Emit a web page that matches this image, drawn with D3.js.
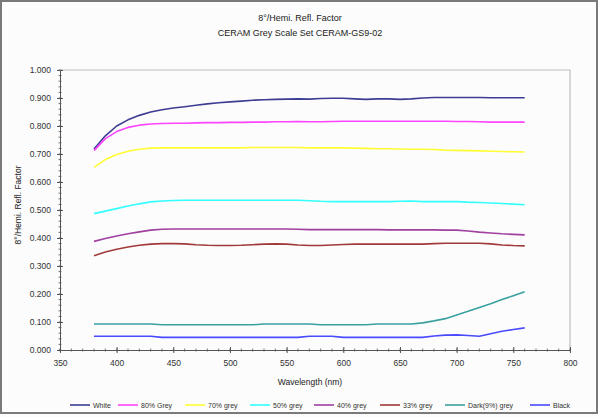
<!DOCTYPE html>
<html>
<head>
<meta charset="utf-8">
<script src="https://cdn.jsdelivr.net/npm/d3@7"></script>
<style>
  body { margin: 0; background: #fff; }
  svg { font-family: "Liberation Sans", Arial, sans-serif; }
</style>
</head>
<body>
<div id="chart"></div>
<script>
const [width, height] = [598, 417];
const margin = {top: 70, right: 28, bottom: 67, left: 60};

// data (wavelength in nm, factor 0..1)
const wavelengths = [380, 390, 400, 410, 420, 430, 440, 450, 460, 470, 480, 490, 500, 510, 520, 530, 540, 550, 560, 570,
                     580, 590, 600, 610, 620, 630, 640, 650, 660, 670, 680, 690, 700, 710, 720, 730, 740, 750, 760];
const seriesNames = ["White", "80% Grey", "70% grey", "50% grey", "40% grey", "33% grey", "Dark(9%) grey", "Black"];
const seriesColors = ["#3d3d94", "#ff44ff", "#ffff33", "#33ffff", "#a040a0", "#a03a3a", "#3aa0a0", "#4a4aff"];

const white = [0.718, 0.765, 0.800, 0.822, 0.838, 0.850, 0.858, 0.864, 0.869, 0.874, 0.879, 0.883, 0.886, 0.889, 0.892, 0.894, 0.895, 0.896, 0.897, 0.896,
               0.898, 0.899, 0.899, 0.897, 0.895, 0.897, 0.897, 0.895, 0.897, 0.900, 0.902, 0.902, 0.902, 0.902, 0.902, 0.901, 0.901, 0.901, 0.901];
const grey80 = [0.712, 0.755, 0.780, 0.795, 0.803, 0.807, 0.809, 0.810, 0.810, 0.811, 0.812, 0.812, 0.813, 0.813, 0.814, 0.814, 0.815, 0.815, 0.816, 0.815,
                0.815, 0.816, 0.817, 0.817, 0.817, 0.817, 0.817, 0.817, 0.817, 0.817, 0.817, 0.817, 0.816, 0.816, 0.815, 0.814, 0.814, 0.814, 0.814];
const grey70 = [0.652, 0.680, 0.698, 0.710, 0.717, 0.721, 0.722, 0.722, 0.722, 0.722, 0.722, 0.722, 0.722, 0.722, 0.723, 0.723, 0.723, 0.723, 0.723, 0.722,
                0.722, 0.722, 0.722, 0.721, 0.720, 0.719, 0.719, 0.718, 0.717, 0.717, 0.716, 0.714, 0.713, 0.712, 0.711, 0.710, 0.709, 0.708, 0.707];
const grey50 = [0.487, 0.496, 0.505, 0.514, 0.522, 0.529, 0.532, 0.534, 0.535, 0.535, 0.535, 0.535, 0.535, 0.535, 0.535, 0.535, 0.535, 0.535, 0.535, 0.533,
                0.531, 0.530, 0.530, 0.530, 0.530, 0.530, 0.530, 0.531, 0.532, 0.530, 0.530, 0.530, 0.530, 0.528, 0.527, 0.525, 0.523, 0.521, 0.519];
const grey40 = [0.388, 0.398, 0.407, 0.415, 0.422, 0.428, 0.431, 0.432, 0.432, 0.432, 0.432, 0.432, 0.432, 0.432, 0.432, 0.432, 0.432, 0.432, 0.431, 0.430,
                0.430, 0.430, 0.430, 0.430, 0.430, 0.430, 0.429, 0.429, 0.429, 0.429, 0.429, 0.428, 0.428, 0.425, 0.421, 0.418, 0.415, 0.413, 0.411];
const grey33 = [0.337, 0.350, 0.360, 0.368, 0.374, 0.378, 0.380, 0.380, 0.379, 0.376, 0.374, 0.373, 0.373, 0.374, 0.376, 0.378, 0.379, 0.378, 0.375, 0.373,
                0.373, 0.375, 0.377, 0.378, 0.378, 0.378, 0.378, 0.378, 0.378, 0.378, 0.380, 0.381, 0.381, 0.381, 0.381, 0.379, 0.375, 0.373, 0.372];
const dark9 = [0.093, 0.093, 0.093, 0.093, 0.093, 0.093, 0.090, 0.090, 0.090, 0.090, 0.090, 0.090, 0.090, 0.090, 0.090, 0.093, 0.093, 0.093, 0.093, 0.093,
               0.090, 0.090, 0.090, 0.090, 0.090, 0.093, 0.093, 0.093, 0.093, 0.097, 0.104, 0.112, 0.125, 0.138, 0.152, 0.165, 0.180, 0.194, 0.208];
const black = [0.049, 0.049, 0.049, 0.049, 0.049, 0.049, 0.045, 0.045, 0.045, 0.045, 0.045, 0.045, 0.045, 0.045, 0.045, 0.045, 0.045, 0.045, 0.045, 0.049,
               0.049, 0.049, 0.045, 0.045, 0.045, 0.045, 0.045, 0.045, 0.045, 0.045, 0.050, 0.053, 0.054, 0.052, 0.049, 0.058, 0.067, 0.073, 0.079];
const seriesValues = [white, grey80, grey70, grey50, grey40, grey33, dark9, black];

const xTicks = [350, 400, 450, 500, 550, 600, 650, 700, 750, 800];
const yTicks = [0, 0.1, 0.2, 0.3, 0.4, 0.5, 0.6, 0.7, 0.8, 0.9, 1.0];

const innerW = width - margin.left - margin.right;
const innerH = height - margin.top - margin.bottom;

const root = d3.select("#chart").append("svg")
    .attr("width", width)
    .attr("height", height);

// background + outer frame
root.append("rect").attr("width", width).attr("height", height).attr("fill", "#fbfcfb");
root.append("rect")
    .attr("x", 1).attr("y", 1).attr("width", width - 2).attr("height", height - 5)
    .attr("fill", "none").attr("stroke", "#7a7a7a").attr("stroke-width", 2);

// titles
root.append("text").attr("x", 300).attr("y", 21).attr("text-anchor", "middle")
    .attr("font-size", 9).attr("fill", "#222").text("8°/Hemi. Refl. Factor");
root.append("text").attr("x", 300).attr("y", 36).attr("text-anchor", "middle")
    .attr("font-size", 9).attr("fill", "#222").text("CERAM Grey Scale Set CERAM-GS9-02");

const svg = root.append("g").attr("transform", `translate(${margin.left}, ${margin.top})`);

// scales
const x = d3.scaleLinear().domain([350, 800]).range([0, innerW]);
const y = d3.scaleLinear().domain([0, 1]).range([innerH, 0]);

// plot area border (top + right)
svg.append("path")
    .attr("d", `M0,0H${innerW}V${innerH}`)
    .attr("fill", "none").attr("stroke", "#bdbdbd").attr("stroke-width", 1.2);

// minor ticks
const xMinor = d3.range(350, 801, 10);
const yMinor = d3.range(0, 1.0001, 0.02);
svg.append("g").selectAll("line").data(xMinor).join("line")
    .attr("x1", d => x(d)).attr("x2", d => x(d))
    .attr("y1", innerH - 1.5).attr("y2", innerH + 1.5)
    .attr("stroke", "#555").attr("stroke-width", 0.8);
svg.append("g").selectAll("line").data(yMinor).join("line")
    .attr("x1", -1.5).attr("x2", 1.5)
    .attr("y1", d => y(d)).attr("y2", d => y(d))
    .attr("stroke", "#555").attr("stroke-width", 0.8);

// axes
const xAxis = svg.append("g").attr("transform", `translate(0, ${innerH})`)
    .call(d3.axisBottom(x).tickValues(xTicks).tickSizeInner(3).tickSizeOuter(0).tickPadding(7));
const yAxis = svg.append("g")
    .call(d3.axisLeft(y).tickValues(yTicks).tickFormat(d3.format(".3f")).tickSizeInner(3).tickSizeOuter(0).tickPadding(6));
[xAxis, yAxis].forEach(a => {
    a.select(".domain").attr("stroke", "#555");
    a.selectAll(".tick line").attr("stroke", "#555");
    a.selectAll(".tick text").attr("font-size", 8.5).attr("fill", "#333").attr("font-family", "Liberation Sans, Arial, sans-serif");
});
xAxis.selectAll(".tick line").attr("y1", -3);
yAxis.selectAll(".tick line").attr("x1", 3).attr("x2", -3);

// axis titles
root.append("text").attr("x", 310).attr("y", 385).attr("text-anchor", "middle")
    .attr("font-size", 8.5).attr("fill", "#222").text("Wavelength (nm)");
root.append("text").attr("transform", "translate(21, 205) rotate(-90)").attr("text-anchor", "middle")
    .attr("font-size", 8.5).attr("fill", "#222").text("8°/Hemi. Refl. Factor");

// lines
const line = d3.line().x((d, i) => x(wavelengths[i])).y(d => y(d));
svg.selectAll(".series").data(seriesValues).join("path")
    .attr("class", "series")
    .attr("d", line)
    .attr("fill", "none")
    .attr("stroke", (d, i) => seriesColors[i])
    .attr("stroke-width", 1.6)
    .attr("stroke-linejoin", "round");

// legend
const legendX = [70, 118, 185, 250, 314, 380, 445, 530];
const legend = root.append("g").selectAll("g").data(seriesNames).join("g")
    .attr("transform", (d, i) => `translate(${legendX[i]}, 405)`);
legend.append("line").attr("x1", 0).attr("x2", 20).attr("y1", 0).attr("y2", 0)
    .attr("stroke", (d, i) => seriesColors[i]).attr("stroke-width", 1.6);
legend.append("text").attr("x", 23).attr("y", 2.5)
    .attr("font-size", 7).attr("fill", "#333").text(d => d);
</script>
</body>
</html>
